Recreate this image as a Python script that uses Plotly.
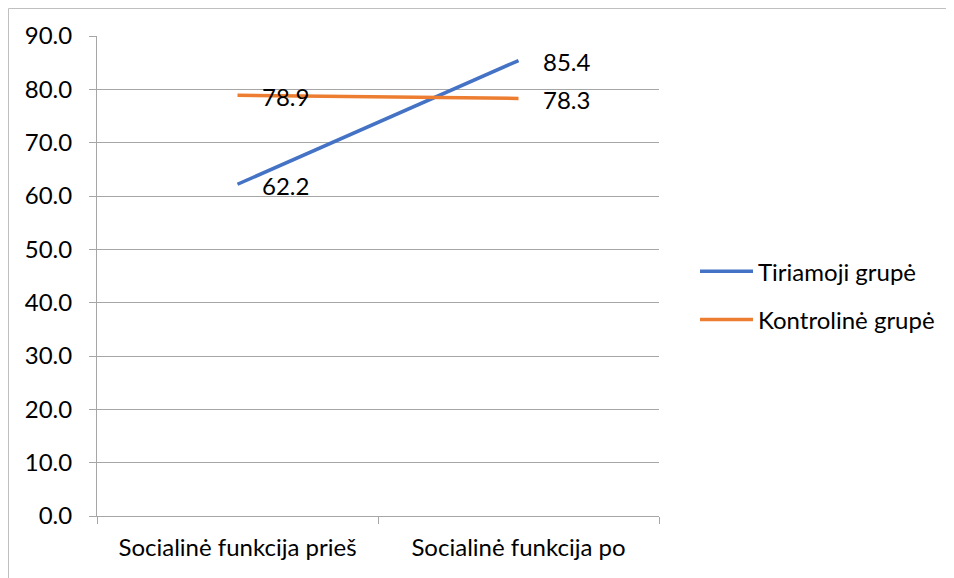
import plotly.graph_objects as go

categories = ["Socialinė funkcija prieš", "Socialinė funkcija po"]
series_names = ["Tiriamoji grupė", "Kontrolinė grupė"]
tiriamoji = [62.2, 85.4]
kontroline = [78.9, 78.3]
colors = ["#4472C4", "#ED7D31"]
y_ticks = [0, 10, 20, 30, 40, 50, 60, 70, 80, 90]

FONT = "Lato"
FS = 24
GRID = "#a6a6a6"

# figure is placed 8px from the page's top-left corner (default body margin)
W, H = 946, 570
L, R, T, B = 89, 295, 28, 62
PW, PH = W - L - R, H - T - B

fig = go.Figure()
for i, (name, vals) in enumerate(zip(series_names, [tiriamoji, kontroline])):
    fig.add_trace(go.Scatter(
        x=categories, y=vals, name=name, mode="lines",
        line=dict(color=colors[i], width=3.5),
        legendgroup=f"g{i}", hoverinfo="skip",
    ))
    for c, v in zip(categories, vals):
        fig.add_annotation(
            x=c, y=v, text=f"{v:.1f}", showarrow=False,
            xanchor="left", yanchor="middle", xshift=22, yshift=-1,
            font=dict(family=FONT, size=FS, color="#000000"),
        )

# outer chart border
fig.add_shape(type="rect", xref="paper", yref="paper",
              x0=(0.5 - L) / PW, x1=2, y0=-1, y1=(H - B - 0.5) / PH,
              line=dict(color="#bfbfbf", width=1), fillcolor="rgba(0,0,0,0)",
              layer="below")

fig.update_layout(
    width=W, height=H,
    margin=dict(l=L, r=R, t=T, b=B),
    paper_bgcolor="white", plot_bgcolor="white",
    font=dict(family=FONT, size=FS, color="#000000"),
    showlegend=True,
    legend=dict(
        x=(687 - L) / PW, y=0.459, xanchor="left", yanchor="middle",
        font=dict(family=FONT, size=FS, color="#000000"),
        itemwidth=53, tracegroupgap=14, bgcolor="rgba(0,0,0,0)",
    ),
    xaxis=dict(
        type="category", range=[-0.5, 1.5],
        showgrid=False, showline=True, linecolor=GRID, linewidth=1,
        ticks="outside", tickson="boundaries", ticklen=7, tickcolor=GRID,
        tickfont=dict(family=FONT, size=FS, color="#000000"),
        ticklabelstandoff=10,
        fixedrange=True,
    ),
    yaxis=dict(
        range=[0, 90], tickvals=y_ticks, tickformat=".1f",
        showgrid=True, gridcolor=GRID, gridwidth=1,
        showline=True, linecolor=GRID, linewidth=1,
        zeroline=False,
        ticks="outside", ticklen=7, tickcolor=GRID,
        tickfont=dict(family=FONT, size=FS, color="#000000"),
        ticklabelstandoff=12,
        fixedrange=True,
    ),
)

fig.write_html("out.html")
